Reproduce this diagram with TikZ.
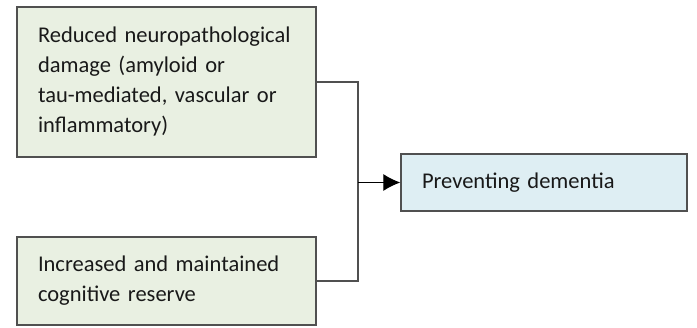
\documentclass[tikz,border=0pt]{standalone}
\usepackage{fontspec}
\setmainfont{Carlito}[WordSpace={0.7}]
\usepackage{xcolor}
\usetikzlibrary{positioning, arrows.meta}

\definecolor{boxgreen}{HTML}{E9F0E2}
\definecolor{boxblue}{HTML}{DEEEF3}
\definecolor{linegray}{HTML}{505050}
\newcommand{\boxfont}{\fontsize{22.5}{30}\selectfont\hyphenpenalty=10000 \exhyphenpenalty=10000 \relax}

\begin{document}
\begin{tikzpicture}[x=1pt, y=1pt, >={Latex[length=17pt, width=17pt]},
    factor/.style={draw=linegray, line width=1.3pt, fill=boxgreen,
        inner xsep=21pt, inner ysep=0pt, text width=257pt, align=left,
        minimum width=299pt, text=black!90, font=\boxfont},
    outcome/.style={factor, fill=boxblue, text width=244pt, minimum width=286pt}]
    % Khung ảnh
    \useasboundingbox (0,0) rectangle (697,-328);

    % Hai yếu tố
    \node[factor, minimum height=150pt] (damage) at (166.5,-82)
        {Reduced neuropathological\\damage (amyloid or\\tau-mediated, vascular or\\inflammatory)};
    \node[factor, minimum height=88pt] (reserve) at (166.5,-281)
        {Increased and maintained\\cognitive reserve};

    % Kết quả
    \node[outcome, minimum height=57pt] (prevent) at (544,-182.5) {Preventing dementia};

    % Nối
    \coordinate (join) at (358,-182.5);
    \draw[linegray, line width=1.3pt] (damage.east) -| (join) |- (reserve.east);
    \draw[->, line width=1.2pt] (join) -- (prevent.west);
\end{tikzpicture}
\end{document}
